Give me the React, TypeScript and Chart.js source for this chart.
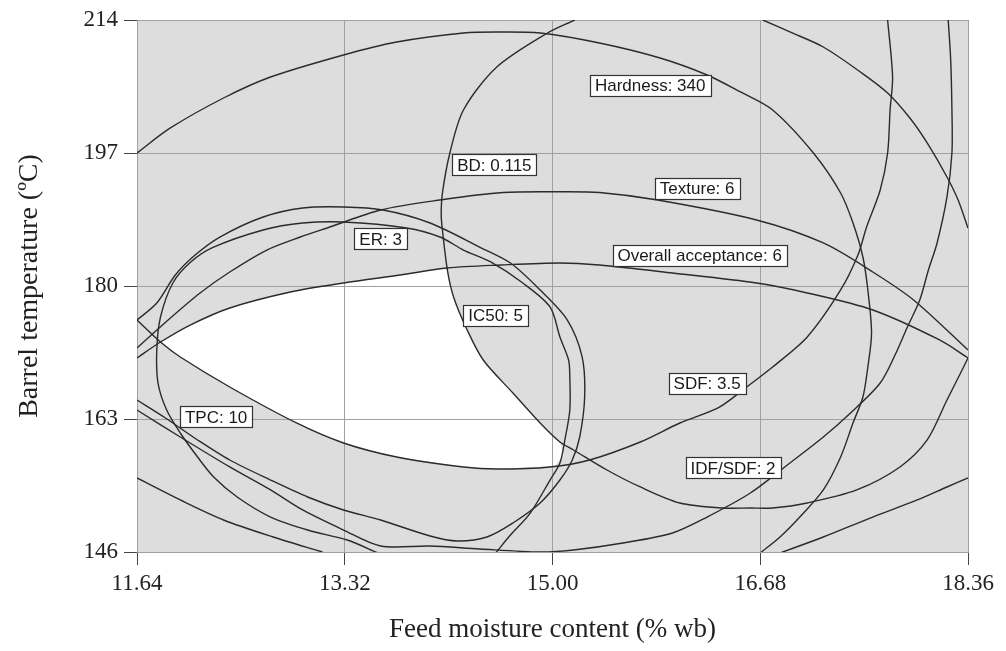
import React, { useEffect, useRef } from 'react';
import { Chart, registerables } from 'chart.js';

Chart.register(...registerables);

// Axis ticks
const xTicks = [11.64, 13.32, 15.0, 16.68, 18.36];
const yTicks = [146, 163, 180, 197, 214];

// Contour: Hardness 340
const hardnessX = [11.64, 11.91, 12.34, 12.72, 13.31, 13.74, 14.28, 14.55, 14.9, 15.38, 15.87, 16.25, 16.52, 16.78, 17.11, 17.33, 17.43, 17.51, 17.55, 17.58, 17.55, 17.51, 17.43, 17.33, 17.19, 17.0, 16.84, 16.68];
const hardnessY = [197.0, 200.2, 204.03, 206.71, 209.53, 211.19, 212.34, 212.47, 212.34, 211.06, 209.14, 206.97, 204.8, 202.5, 197.0, 191.89, 188.05, 183.71, 179.49, 173.99, 169.65, 165.81, 162.49, 158.14, 153.93, 150.47, 147.92, 145.87];

// Contour: SDF 3.5
const sdfX = [11.64, 11.83, 11.99, 12.39, 12.93, 13.31, 13.74, 14.28, 14.55, 14.98, 15.3, 15.71, 16.03, 16.35, 16.57, 16.78, 17.06, 17.33, 17.47, 17.54, 17.65, 17.71, 17.73, 17.75, 17.71];
const sdfY = [175.65, 172.84, 170.92, 167.09, 162.49, 159.93, 158.14, 156.87, 156.61, 156.87, 157.76, 160.06, 162.49, 164.53, 167.09, 169.65, 173.48, 179.49, 183.96, 187.54, 192.27, 197.0, 202.5, 206.71, 214.0];

// Contour: Texture 6
const textureX = [11.64, 11.91, 12.15, 12.39, 12.69, 12.96, 13.2, 13.61, 14.09, 14.6, 15.06, 15.38, 15.85, 16.65, 17.19, 17.59, 17.92, 18.36];
const textureY = [172.08, 175.91, 179.11, 181.79, 184.6, 186.26, 187.54, 189.71, 190.99, 191.95, 192.05, 191.95, 190.99, 188.44, 185.5, 181.79, 178.21, 171.82];

// Contour: Overall acceptance 6
const overallX = [11.64, 11.83, 12.07, 12.39, 12.88, 13.31, 13.77, 14.15, 14.58, 15.06, 15.38, 15.97, 16.65, 17.06, 17.59, 18.13, 18.36];
const overallY = [170.8, 172.84, 175.01, 177.19, 179.23, 180.38, 181.41, 182.3, 182.68, 182.94, 182.68, 181.66, 180.38, 179.11, 176.93, 173.1, 170.8];

// Contour: BD 0.115
const bdX = [15.18, 14.96, 14.55, 14.28, 14.17, 14.11, 14.1, 14.11, 14.15, 14.2, 14.31, 14.44, 14.68, 14.9, 15.06, 15.17, 15.44, 15.71, 16.03, 16.38, 16.6, 16.78, 17.06, 17.46, 17.81, 18.03, 18.19, 18.3, 18.36];
const bdY = [214.0, 212.34, 207.99, 202.5, 197.0, 191.89, 189.08, 187.16, 182.04, 178.59, 174.38, 170.54, 166.32, 162.49, 160.06, 159.04, 156.48, 154.31, 152.26, 151.62, 151.62, 151.62, 152.26, 153.93, 156.87, 160.32, 165.43, 168.88, 170.8];

// Contour: upper-right arc
const arcX = [16.7, 16.92, 17.19, 17.49, 17.71, 17.89, 18.03, 18.19, 18.28, 18.36];
const arcY = [214.0, 212.47, 210.55, 207.35, 204.67, 201.47, 198.28, 193.93, 190.99, 187.41];

// Contour: IDF/SDF 2
const idfX = [18.2, 18.22, 18.23, 18.23, 18.19, 18.11, 18.04, 17.97, 17.87, 17.77, 17.65, 17.41, 17.19, 16.92, 16.6, 16.25, 15.97, 15.57, 15.17, 14.9, 14.41, 14.01, 13.61, 13.31, 12.98, 12.72, 12.39, 11.99, 11.64];
const idfY = [214.0, 208.89, 202.5, 197.0, 191.38, 185.5, 182.04, 178.21, 174.76, 171.18, 167.6, 163.77, 160.7, 157.38, 153.54, 150.47, 148.43, 147.15, 146.26, 146.0, 146.38, 146.77, 146.77, 148.81, 151.37, 153.93, 156.87, 160.7, 164.15];

// Contour: IC50 5
const ic50X = [11.64, 11.87, 12.13, 12.39, 12.72, 13.02, 13.31, 13.61, 14.01, 14.23, 14.47, 14.68, 14.9, 15.06, 15.16, 15.22, 15.26, 15.24, 15.12, 14.9, 14.66, 14.41, 14.01, 13.63, 13.31, 12.98, 12.66, 12.31, 12.11, 11.95, 11.8, 11.64];
const ic50Y = [165.43, 163.13, 160.32, 157.76, 155.2, 153.03, 151.37, 150.09, 148.05, 147.41, 147.92, 149.71, 152.26, 155.2, 157.76, 160.7, 165.81, 170.92, 175.65, 179.49, 182.94, 184.98, 188.05, 189.71, 190.1, 189.97, 188.82, 186.26, 183.96, 181.41, 177.83, 175.65];

// Contour: ER 3
const erX = [13.59, 13.34, 13.02, 12.72, 12.45, 12.26, 12.13, 11.99, 11.88, 11.81, 11.8, 11.83, 11.93, 12.07, 12.25, 12.66, 12.98, 13.31, 13.82, 14.09, 14.28, 14.5, 14.76, 14.98, 15.06, 15.13, 15.14, 15.14, 15.1, 15.06, 14.98, 14.82, 14.66, 14.54];
const erY = [145.87, 147.53, 148.81, 150.47, 153.03, 155.59, 158.14, 161.21, 164.15, 167.6, 171.82, 176.04, 180.38, 183.0, 184.9, 187.16, 188.05, 188.18, 187.41, 186.26, 184.6, 183.07, 180.38, 177.32, 173.48, 170.54, 168.37, 164.15, 160.32, 157.38, 155.2, 150.98, 148.17, 145.87];

// Contour: TPC 10
const tpcX = [11.64, 11.99, 12.34, 12.74, 13.14];
const tpcY = [155.46, 152.65, 150.09, 147.92, 146.0];

// Contour: lower-right arc
const lowArcX = [16.84, 17.19, 17.59, 17.95, 18.19, 18.36];
const lowArcY = [145.87, 147.92, 150.47, 152.65, 154.31, 155.46];

// Feasible (unshaded) region boundary
const regionX = [11.83, 12.07, 12.39, 12.88, 13.31, 13.77, 14.14, 14.2, 14.31, 14.44, 14.68, 14.9, 15.06, 15.09, 15.02, 14.55, 14.28, 13.74, 13.31, 12.93, 12.39, 11.99];
const regionY = [172.84, 175.01, 177.19, 179.23, 180.38, 181.41, 182.3, 178.59, 174.38, 170.54, 166.32, 162.49, 160.06, 158.4, 157.0, 156.61, 156.87, 158.14, 159.93, 162.49, 167.09, 170.92];

// Flag labels
const labelText = ['Hardness: 340', 'BD: 0.115', 'Texture: 6', 'ER: 3', 'Overall acceptance: 6', 'IC50: 5', 'SDF: 3.5', 'TPC: 10', 'IDF/SDF: 2'];
const labelX = [15.79, 14.53, 16.17, 13.61, 16.19, 14.54, 16.25, 12.28, 16.46];
const labelY = [205.63, 195.47, 192.46, 186.01, 183.9, 176.29, 167.6, 163.26, 156.74];

const zip = (xs: number[], ys: number[]) => xs.map((x, i) => ({ x, y: ys[i] }));

const bgPlugin = {
  id: 'bgRegion',
  beforeDraw(chart: any) {
    const { ctx, chartArea, scales } = chart;
    const { left, top, right, bottom } = chartArea;
    ctx.save();
    ctx.fillStyle = '#dddddd';
    ctx.fillRect(left, top, right - left, bottom - top);
    ctx.beginPath();
    regionX.forEach((v, i) => {
      const px = scales.x.getPixelForValue(v);
      const py = scales.y.getPixelForValue(regionY[i]);
      if (i === 0) ctx.moveTo(px, py);
      else ctx.lineTo(px, py);
    });
    ctx.closePath();
    ctx.fillStyle = '#ffffff';
    ctx.fill();
    ctx.restore();
  },
};

const labelPlugin = {
  id: 'flagLabels',
  afterDatasetsDraw(chart: any) {
    const { ctx, scales } = chart;
    ctx.save();
    ctx.font = "17px 'Liberation Sans', Arial, sans-serif";
    ctx.textAlign = 'center';
    ctx.textBaseline = 'middle';
    labelText.forEach((t, i) => {
      const cx = scales.x.getPixelForValue(labelX[i]);
      const cy = scales.y.getPixelForValue(labelY[i]);
      const w = Math.round(ctx.measureText(t).width + 10);
      const h = 21;
      const bx = Math.round(cx - w / 2) + 0.5;
      const by = Math.round(cy - h / 2) + 0.5;
      ctx.fillStyle = '#ffffff';
      ctx.fillRect(bx, by, w, h);
      ctx.strokeStyle = '#333333';
      ctx.lineWidth = 1.2;
      ctx.strokeRect(bx, by, w, h);
      ctx.fillStyle = '#1a1a1a';
      ctx.fillText(t, cx, cy + 1);
    });
    ctx.restore();
  },
};

export default function App() {
  const ref = useRef<HTMLCanvasElement>(null);
  useEffect(() => {
    document.body.style.margin = '0';
    const serif = "'Liberation Serif', 'Times New Roman', serif";
    const curves = [
      { name: 'Hardness', x: hardnessX, y: hardnessY },
      { name: 'SDF', x: sdfX, y: sdfY },
      { name: 'Texture', x: textureX, y: textureY },
      { name: 'Overall acceptance', x: overallX, y: overallY },
      { name: 'BD', x: bdX, y: bdY },
      { name: 'Upper arc', x: arcX, y: arcY },
      { name: 'IDF/SDF', x: idfX, y: idfY },
      { name: 'IC50', x: ic50X, y: ic50Y },
      { name: 'ER', x: erX, y: erY },
      { name: 'TPC', x: tpcX, y: tpcY },
      { name: 'Lower arc', x: lowArcX, y: lowArcY },
    ];
    const chart = new Chart(ref.current as HTMLCanvasElement, {
      type: 'scatter',
      data: {
        datasets: curves.map((c) => ({
          label: c.name,
          data: zip(c.x, c.y),
          showLine: true,
          borderColor: '#2b2b2b',
          borderWidth: 1.4,
          pointRadius: 0,
          pointHoverRadius: 0,
          tension: 0.3,
          clip: 0,
          fill: false,
        })),
      },
      options: {
        animation: false,
        responsive: false,
        devicePixelRatio: 1,
        events: [],
        layout: { padding: { left: 0, top: 20, right: 38, bottom: 0 } },
        elements: { line: { capBezierPoints: false } },
        plugins: { legend: { display: false }, tooltip: { enabled: false } },
        scales: {
          x: {
            type: 'linear',
            min: 11.64,
            max: 18.36,
            afterBuildTicks: (s: any) => {
              s.ticks = xTicks.map((v) => ({ value: v }));
            },
            afterFit: (s: any) => {
              s.height = 99;
            },
            ticks: {
              callback: (v: any) => Number(v).toFixed(2),
              font: { family: serif, size: 23 },
              color: '#222',
              padding: 5,
              maxRotation: 0,
              autoSkip: false,
            },
            grid: { color: '#a0a0a0', tickColor: '#444', tickLength: 13, lineWidth: 1 },
            border: { color: '#a0a0a0' },
            title: {
              display: true,
              text: 'Feed moisture content (% wb)',
              font: { family: serif, size: 27 },
              color: '#222',
              padding: { top: 0, bottom: 5 },
            },
          },
          y: {
            type: 'linear',
            min: 146,
            max: 214,
            afterBuildTicks: (s: any) => {
              s.ticks = yTicks.map((v) => ({ value: v }));
            },
            afterFit: (s: any) => {
              s.width = 137;
            },
            ticks: {
              callback: (v: any) => String(v),
              font: { family: serif, size: 23 },
              color: '#222',
              padding: 6,
              autoSkip: false,
            },
            grid: { color: '#a0a0a0', tickColor: '#444', tickLength: 13, lineWidth: 1 },
            border: { color: '#a0a0a0' },
            title: {
              display: true,
              text: 'Barrel temperature (ºC)',
              font: { family: serif, size: 28 },
              color: '#222',
              padding: { top: 13, bottom: 0 },
            },
          },
        },
      } as any,
      plugins: [bgPlugin, labelPlugin],
    });
    return () => chart.destroy();
  }, []);
  return (
    <div style={{ position: 'absolute', left: 0, top: 0, width: 1006, height: 651 }}>
      <canvas ref={ref} width={1006} height={651} style={{ display: 'block' }} />
    </div>
  );
}
